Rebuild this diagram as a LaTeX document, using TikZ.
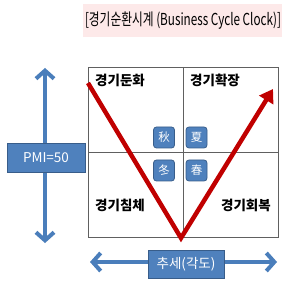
\documentclass[tikz,border=0pt]{standalone}
\usepackage{fontspec}
\newfontfamily\kr{Noto Sans CJK KR}
\usetikzlibrary{arrows.meta}
\definecolor{boxblue}{HTML}{4F81BD}
\definecolor{boxedge}{HTML}{385D8A}
\definecolor{arrblue}{HTML}{4A7EBB}
\definecolor{vred}{HTML}{C00000}
\definecolor{titlebg}{HTML}{FDE9E9}
\definecolor{gridcol}{HTML}{606060}
\tikzset{
  quadlabel/.style={font=\kr\bfseries\fontsize{13.5}{15}\selectfont, inner sep=0pt},
  season/.style={draw=boxedge, fill=boxblue, line width=0.8pt, rounded corners=3pt,
    minimum width=21pt, minimum height=21pt, inner sep=0pt, text=white,
    font=\kr\fontsize{11.5}{12}\selectfont},
  axisbox/.style={draw=boxedge, fill=boxblue, line width=0.8pt, inner sep=0pt,
    text=white, font=\kr\fontsize{13.5}{15}\selectfont},
  bluearrow/.style={draw=arrblue, line width=4pt,
    {Straight Barb[length=8pt,width=18pt]}-{Straight Barb[length=8pt,width=18pt]}},
}
\begin{document}
\begin{tikzpicture}[x=1pt,y=-1pt]
\useasboundingbox (0,0) rectangle (300,286);
% title
\node[fill=titlebg, minimum width=199pt, minimum height=33pt, inner sep=0pt] (title) at (182.5,20.5) {};
\node[inner sep=0pt, font=\kr\fontsize{16.5}{18}\selectfont] (titletext) at (183,21)
  {\scalebox{0.71}[1]{[경기순환시계 (Business Cycle Clock)]}};
% grid
\coordinate (gtl) at (88,67);
\coordinate (gbr) at (278,237);
\coordinate (gmt) at (183,67);
\coordinate (gmb) at (183,237);
\coordinate (gml) at (88,152);
\coordinate (gmr) at (278,152);
\draw[gridcol, line width=0.8pt] (gtl) rectangle (gbr);
\draw[gridcol, line width=0.8pt] (gmt) -- (gmb);
\draw[gridcol, line width=0.8pt] (gml) -- (gmr);
% labels
\node[quadlabel, anchor=west] (slow) at (95,80) {경기둔화};
\node[quadlabel, anchor=west] (expand) at (190,80) {경기확장};
\node[quadlabel, anchor=west] (rec) at (95,205) {경기침체};
\node[quadlabel, anchor=east] (recov) at (271,205) {경기회복};
% seasons
\node[season] (autumn) at (164,137.5) {秋};
\node[season] (summer) at (196.5,137.5) {夏};
\node[season] (winter) at (164,170.5) {冬};
\node[season] (spring) at (196.5,170.5) {春};
% red V
\coordinate (vstart) at (88,83);
\coordinate (vbot) at (181,238);
\coordinate (vtip) at (273,89);
\draw[vred, line width=4.5pt, miter limit=10, -{Triangle[length=13pt,width=16pt]}] (vstart) -- (vbot) -- (vtip);
% vertical axis
\coordinate (vtop) at (45,68);
\coordinate (vbottom) at (45,243);
\draw[bluearrow] (vtop) -- (vbottom);
\node[axisbox, minimum width=78pt, minimum height=29pt] (pmi) at (46,157.5) {PMI=50};
% horizontal axis
\coordinate (hleft) at (90,262);
\coordinate (hright) at (277,262);
\draw[bluearrow] (hleft) -- (hright);
\node[axisbox, minimum width=76pt, minimum height=28pt] (trend) at (186,264) {추세(각도)};
\end{tikzpicture}
\end{document}
